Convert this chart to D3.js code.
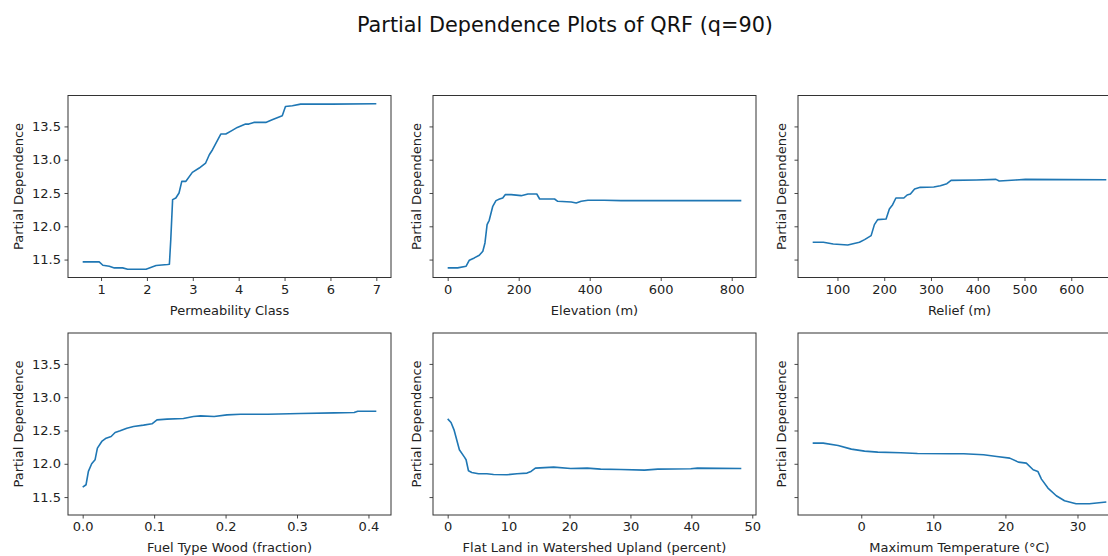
<!DOCTYPE html>
<html>
<head>
<meta charset="utf-8">
<script src="https://cdn.jsdelivr.net/npm/d3@7"></script>
<style>
  body { margin: 0; background: #fff; }
  svg { font-family: "DejaVu Sans", sans-serif; }
</style>
</head>
<body>
<div id="chart"></div>
<script>
const titleText = 'Partial Dependence Plots of QRF (q=90)'
const yLabel = 'Partial Dependence'
const yTicks = [11.5, 12.0, 12.5, 13.0, 13.5]

// Permeability Class
const permX = [0.6, 0.96, 1.04, 1.18, 1.29, 1.47, 1.58, 1.98, 2.2, 2.45, 2.49, 2.52, 2.56, 2.63, 2.7, 2.76, 2.85, 2.99, 3.14, 3.28, 3.36, 3.43, 3.61, 3.72, 3.86, 3.97, 4.15, 4.22, 4.33, 4.59, 4.73, 4.95, 5.02, 5.17, 5.35, 6.04, 7.0]
const permY = [11.465, 11.465, 11.415, 11.4, 11.375, 11.375, 11.355, 11.355, 11.41, 11.425, 11.43, 11.8, 12.4, 12.425, 12.5, 12.675, 12.675, 12.81, 12.875, 12.95, 13.075, 13.15, 13.385, 13.385, 13.44, 13.485, 13.535, 13.535, 13.56, 13.56, 13.6, 13.66, 13.8, 13.81, 13.835, 13.835, 13.84]
const permTicks = [1, 2, 3, 4, 5, 6, 7]

// Elevation (m)
const elevX = [0, 28, 52, 61, 75, 89, 99, 105, 111, 117, 127, 136, 146, 155, 162, 179, 207, 226, 251, 259, 301, 310, 348, 362, 376, 395, 441, 488, 630, 827]
const elevY = [11.375, 11.375, 11.4, 11.49, 11.525, 11.565, 11.625, 11.75, 12.025, 12.09, 12.3, 12.385, 12.41, 12.425, 12.475, 12.475, 12.46, 12.485, 12.485, 12.41, 12.41, 12.375, 12.365, 12.35, 12.375, 12.39, 12.39, 12.385, 12.385, 12.385]
const elevTicks = [0, 200, 400, 600, 800]

// Relief (m)
const reliefX = [47, 70, 91, 122, 147, 158, 172, 179, 186, 204, 211, 218, 225, 242, 249, 256, 265, 277, 306, 320, 334, 343, 397, 439, 446, 481, 502, 675]
const reliefY = [11.76, 11.76, 11.735, 11.72, 11.76, 11.8, 11.86, 12.025, 12.1, 12.11, 12.26, 12.325, 12.425, 12.425, 12.47, 12.485, 12.56, 12.585, 12.59, 12.61, 12.64, 12.69, 12.695, 12.705, 12.68, 12.695, 12.705, 12.7]
const reliefTicks = [100, 200, 300, 400, 500, 600]

// Fuel Type Wood (fraction)
const woodX = [0.0, 0.0047, 0.008, 0.0126, 0.0173, 0.0206, 0.0267, 0.0328, 0.0398, 0.0454, 0.0525, 0.0618, 0.0712, 0.0852, 0.097, 0.104, 0.118, 0.141, 0.155, 0.165, 0.184, 0.202, 0.221, 0.259, 0.305, 0.352, 0.38, 0.385, 0.411]
const woodY = [11.65, 11.685, 11.885, 12.0, 12.06, 12.235, 12.335, 12.385, 12.41, 12.47, 12.495, 12.535, 12.56, 12.58, 12.6, 12.66, 12.67, 12.68, 12.71, 12.72, 12.71, 12.735, 12.745, 12.745, 12.755, 12.765, 12.77, 12.79, 12.79]
const woodTicks = [0.0, 0.1, 0.2, 0.3, 0.4]

// Flat Land in Watershed Upland (percent)
const flatX = [0, 0.55, 1.04, 1.92, 2.75, 3.02, 3.41, 3.96, 5.05, 6.43, 7.53, 9.73, 11.37, 13.02, 13.68, 14.4, 17.4, 20.2, 22.9, 25.1, 28.4, 32.3, 34.5, 39.9, 41.0, 48.2]
const flatY = [12.675, 12.62, 12.51, 12.21, 12.1, 12.06, 11.895, 11.87, 11.85, 11.85, 11.84, 11.835, 11.85, 11.86, 11.885, 11.935, 11.95, 11.93, 11.935, 11.92, 11.915, 11.905, 11.92, 11.925, 11.935, 11.93]
const flatTicks = [0, 10, 20, 30, 40, 50]

// Maximum Temperature (°C)
const tempX = [-6.74, -5.28, -3.21, -1.38, 0.46, 2.29, 5.5, 7.8, 12.39, 14.2, 16.97, 18.8, 20.6, 21.8, 22.9, 23.85, 24.5, 25.0, 25.9, 27.06, 28.2, 29.8, 31.65, 34.0]
const tempY = [12.31, 12.31, 12.275, 12.22, 12.19, 12.175, 12.165, 12.155, 12.15, 12.15, 12.135, 12.11, 12.085, 12.025, 12.01, 11.91, 11.885, 11.77, 11.635, 11.52, 11.445, 11.4, 11.4, 11.425]
const tempTicks = [0, 10, 20, 30]

const panels = [
    { label: 'Permeability Class', x: permX, y: permY, ticks: permTicks, fmt: d3.format('d') },
    { label: 'Elevation (m)', x: elevX, y: elevY, ticks: elevTicks, fmt: d3.format('d') },
    { label: 'Relief (m)', x: reliefX, y: reliefY, ticks: reliefTicks, fmt: d3.format('d') },
    { label: 'Fuel Type Wood (fraction)', x: woodX, y: woodY, ticks: woodTicks, fmt: d3.format('.1f') },
    { label: 'Flat Land in Watershed Upland (percent)', x: flatX, y: flatY, ticks: flatTicks, fmt: d3.format('d') },
    { label: 'Maximum Temperature (°C)', x: tempX, y: tempY, ticks: tempTicks, fmt: d3.format('d') },
]

const width = 1108
const height = 556
const panelW = 323
const panelH = 182
const lefts = [68, 433, 798]
const tops = [95.5, 333]
const lineColor = '#1f77b4'
const axisColor = '#333'
const fontSize = '13px'

// matplotlib-style 5% margins
const pad = (ext) => {
    let m = (ext[1] - ext[0]) * 0.05
    return [ext[0] - m, ext[1] + m]
}

const allY = panels.flatMap(p => p.y)
const y = d3.scaleLinear()
    .domain(pad(d3.extent(allY)))
    .range([panelH, 0])

const svg = d3.select('#chart')
    .append('svg')
    .attr('width', width)
    .attr('height', height)

svg.append('text')
    .attr('x', 565)
    .attr('y', 32)
    .attr('text-anchor', 'middle')
    .style('font-size', '20.8px')
    .style('fill', '#111')
    .text(titleText)

panels.forEach((p, i) => {
    let col = i % 3
    let row = Math.floor(i / 3)
    let g = svg.append('g')
        .attr('transform', `translate(${lefts[col]}, ${tops[row]})`)

    let x = d3.scaleLinear()
        .domain(pad(d3.extent(p.x)))
        .range([0, panelW])

    let clipId = 'clip' + i
    g.append('clipPath')
        .attr('id', clipId)
        .append('rect')
        .attr('width', panelW)
        .attr('height', panelH)

    let line = d3.line()
        .x(d => x(d[0]))
        .y(d => y(d[1]))

    g.append('path')
        .datum(p.x.map((v, k) => [v, p.y[k]]))
        .attr('clip-path', `url(#${clipId})`)
        .attr('d', line)
        .style('fill', 'none')
        .style('stroke', lineColor)
        .style('stroke-width', 1.6)
        .style('stroke-linejoin', 'round')

    let xAxis = g.append('g')
        .attr('transform', `translate(0, ${panelH})`)
        .call(d3.axisBottom(x).tickValues(p.ticks).tickFormat(p.fmt).tickSizeOuter(0).tickSize(3.5).tickPadding(3.5))

    let yAxis = g.append('g')
        .call(d3.axisLeft(y).tickValues(yTicks)
            .tickFormat(col === 0 ? d3.format('.1f') : '')
            .tickSizeOuter(0).tickSize(3.5).tickPadding(3.5))

    ;[xAxis, yAxis].forEach(a => {
        a.select('.domain').remove()
        a.selectAll('line').style('stroke', axisColor).style('stroke-width', 0.9)
        a.selectAll('text')
            .style('font-family', '"DejaVu Sans", sans-serif')
            .style('font-size', fontSize)
            .style('fill', '#222')
    })

    g.append('rect')
        .attr('width', panelW)
        .attr('height', panelH)
        .style('fill', 'none')
        .style('stroke', axisColor)
        .style('stroke-width', 1)

    g.append('text')
        .attr('x', panelW / 2)
        .attr('y', panelH + 37)
        .attr('text-anchor', 'middle')
        .style('font-size', fontSize)
        .style('fill', '#222')
        .text(p.label)

    // y label sits closer when the column has no tick labels
    let labelOff = col === 0 ? -50 : -17
    g.append('text')
        .attr('transform', `translate(${labelOff}, ${panelH / 2}) rotate(-90)`)
        .attr('dy', '0.35em')
        .attr('text-anchor', 'middle')
        .style('font-size', fontSize)
        .style('fill', '#222')
        .text(yLabel)
})
</script>
</body>
</html>
